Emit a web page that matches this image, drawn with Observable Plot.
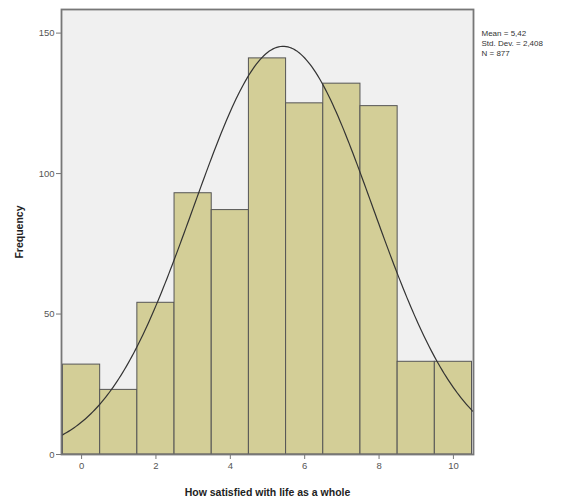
<!DOCTYPE html>
<html>
<head>
<meta charset="utf-8">
<script src="https://cdn.jsdelivr.net/npm/d3@7"></script>
<script src="https://cdn.jsdelivr.net/npm/@observablehq/plot@0.6"></script>
<style>
  body { margin: 0; background: #fff; }
  svg { font-family: "Liberation Sans", Arial, sans-serif; }
  g[aria-label="y-axis label"] text, g[aria-label="x-axis label"] text { font-weight: bold; font-size: 10.5px; fill: #222; }
  g[aria-label="y-axis tick label"] text, g[aria-label="x-axis tick label"] text { fill: #555; }
</style>
</head>
<body>
<div id="chart"></div>
<script>
const categories = [0, 1, 2, 3, 4, 5, 6, 7, 8, 9, 10];
const counts = [32, 23, 54, 93, 87, 141, 125, 132, 124, 33, 33];
const xTicks = [0, 2, 4, 6, 8, 10];
const yTicks = [0, 50, 100, 150];
const mean = 5.42;
const sd = 2.408;
const n = 877;
const statLines = ["Mean = 5,42", "Std. Dev. = 2,408", "N = 877"];

const bars = categories.map((c, i) => ({x1: c - 0.5, x2: c + 0.5, count: counts[i]}));
// fitted normal curve (from the chart's stated mean, sd and N; bin width 1)
const curve = d3.range(-0.6, 10.61, 0.05).map(x => ({
  x, y: n / (sd * Math.sqrt(2 * Math.PI)) * Math.exp(-0.5 * ((x - mean) / sd) ** 2)
}));

const chart = Plot.plot({
  width: 563,
  height: 501,
  marginLeft: 61,
  marginTop: 9,
  marginRight: 90,
  marginBottom: 47,
  style: {fontFamily: '"Liberation Sans", Arial, sans-serif', fontSize: "9.5px", background: "#fff"},
  x: {domain: [-0.54, 10.54]},
  y: {domain: [0, 158.4]},
  marks: [
    Plot.frame({fill: "#f0f0f0"}),
    Plot.rectY(bars, {x1: "x1", x2: "x2", y: "count", fill: "#d3ce97", stroke: "#555", strokeWidth: 1}),
    Plot.line(curve, {x: "x", y: "y", stroke: "#333", strokeWidth: 1.2, clip: true}),
    Plot.frame({stroke: "#777", strokeWidth: 1.8}),
    Plot.axisY(yTicks, {ticks: yTicks, tickSize: 5, tickPadding: 2, label: "Frequency", labelAnchor: "center", labelArrow: "none", labelOffset: 46, stroke: "#777"}),
    Plot.axisX(xTicks, {ticks: xTicks, tickSize: 5, tickPadding: 3, label: "How satisfied with life as a whole", labelAnchor: "center", labelArrow: "none", labelOffset: 41, stroke: "#777"}),
    Plot.text([statLines.join("\n")], {frameAnchor: "top-right", dx: 8, dy: 19, textAnchor: "start", lineAnchor: "top", lineHeight: 1.25, fontSize: 8, fill: "#333"})
  ]
});
document.getElementById("chart").appendChild(chart);
</script>
</body>
</html>
